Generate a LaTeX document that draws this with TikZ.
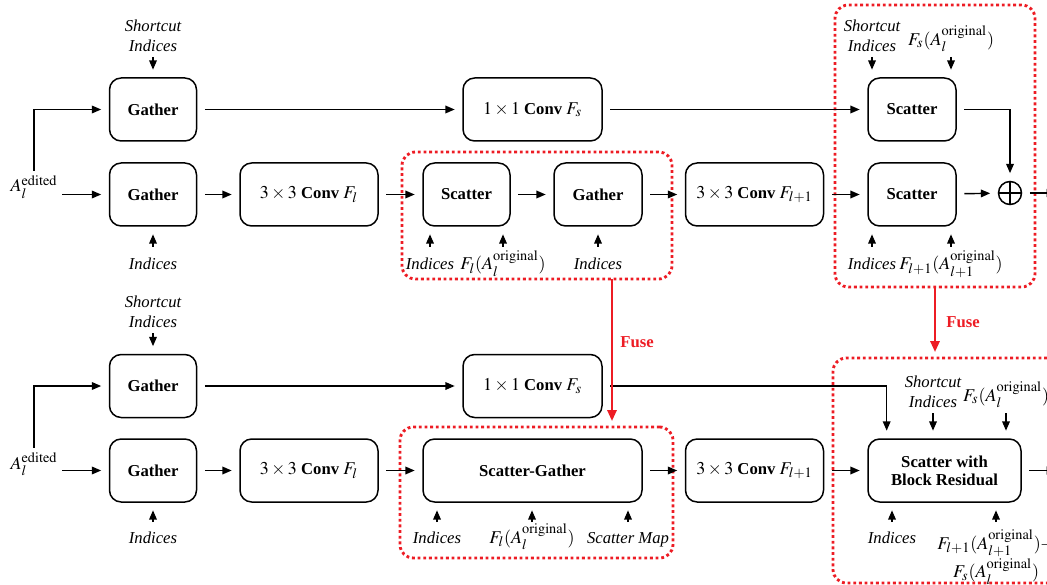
\documentclass[tikz,border=0pt]{standalone}
\usepackage{mathptmx}
\usepackage{fontspec}
\setmainfont{Liberation Serif}
\DeclareMathSizes{10}{10.8}{8.6}{7}
\usetikzlibrary{arrows.meta}
\definecolor{fusered}{RGB}{237,28,36}
\tikzset{
  blk/.style={draw, rounded corners=7pt, line width=0.9pt, minimum height=37.8pt,
    outer sep=5pt, font=\bfseries, align=center},
  arr/.style={-{Triangle[length=5.6pt,width=4.6pt]}, line width=0.85pt},
  lbl/.style={font=\itshape, inner sep=0.5pt, outer sep=2.5pt, align=center},
  fusebox/.style={draw=fusered, line width=1.7pt, dash pattern=on 1.7pt off 1.7pt,
    rounded corners=8pt, outer sep=0pt},
  fusearr/.style={draw=fusered, line width=1.3pt, shorten >=3.6pt,
    -{Triangle[length=6.5pt,width=5.5pt]}},
  fuselbl/.style={font=\bfseries, text=fusered}
}
\begin{document}
\begin{tikzpicture}[x=0.6pt,y=-0.6pt]
	\useasboundingbox (0,0) rectangle (1047,585);
	% fused regions
	\node[fusebox, minimum width=162pt, minimum height=76.2pt] (fb1) at (537,215.5) {};
	\node[fusebox, minimum width=120pt, minimum height=169.2pt] (fb2) at (935,146) {};
	\node[fusebox, minimum width=163.8pt, minimum height=78.6pt] (fb3) at (536.5,492.5) {};
	\node[fusebox, minimum width=160.2pt, minimum height=135pt] (fb4) at (966.5,470.5) {};
	% top: unfused block
	\node[blk, minimum width=52.2pt] (g1) at (153,109.5) {Gather};
	\node[blk, minimum width=83.4pt] (cs1) at (532.5,109.5) {$1\times 1$ Conv $F_s$};
	\node[blk, minimum width=52.8pt] (sc1) at (912,109.5) {Scatter};
	\node[lbl, anchor=base] (ae1) at (34,192) {$A_l^{\mathrm{edited}}$};
	\node[blk, minimum width=52.2pt] (g2) at (153,194.5) {Gather};
	\node[blk, minimum width=82.8pt] (cl1) at (309,194.5) {$3\times 3$ Conv $F_l$};
	\node[blk, minimum width=52.2pt] (s2) at (466.5,194.5) {Scatter};
	\node[blk, minimum width=52.8pt] (g3) at (598,194.5) {Gather};
	\node[blk, minimum width=82.8pt] (cn1) at (754.5,194.5) {$3\times 3$ Conv $F_{l+1}$};
	\node[blk, minimum width=52.8pt] (sc2) at (912,194.5) {Scatter};
	\node[draw, circle, line width=0.9pt, minimum size=13.8pt, outer sep=5pt,
	  path picture={\draw[line width=0.9pt] (path picture bounding box.north) -- (path picture bounding box.south)
	    (path picture bounding box.west) -- (path picture bounding box.east);}] (sum) at (1010,193) {};
	\coordinate (out1) at (1056,193);
	% top: side inputs
	\node[lbl, anchor=south] (si1) at (153,57) {Shortcut\\Indices};
	\node[lbl, anchor=south] (si2) at (872,57) {Shortcut\\Indices};
	\node[lbl, anchor=south] (fs1) at (951,57) {$F_s(A_l^{\mathrm{original}})$};
	\node[lbl, anchor=base] (i1) at (153,270) {Indices};
	\node[lbl, anchor=base] (i2) at (430,270) {Indices};
	\node[lbl, anchor=base] (fl1) at (503,270) {$F_l(A_l^{\mathrm{original}})$};
	\node[lbl, anchor=base] (i3) at (598,270) {Indices};
	\node[lbl, anchor=base] (i4) at (872,270) {Indices};
	\node[lbl, anchor=base] (fn1) at (951,270) {$F_{l+1}(A_{l+1}^{\mathrm{original}})$};
	% top: connectors
	\draw[arr] (ae1.north) |- (g1.west);
	\draw[arr] (ae1.east |- g2.west) -- (g2.west);
	\draw[arr] (g1) -- (cs1);
	\draw[arr] (cs1) -- (sc1);
	\draw[arr] (sc1.east) -| (sum.north);
	\draw[arr] (g2) -- (cl1);
	\draw[arr] (cl1) -- (s2);
	\draw[arr] (s2) -- (g3);
	\draw[arr] (g3) -- (cn1);
	\draw[arr] (cn1) -- (sc2);
	\draw[arr] (sc2) -- (sum);
	\draw[arr] (sum.east) -- (out1);
	\draw[arr] (si1.south) -- (si1.south |- g1.north);
	\draw[arr] (si2.south) -- (si2.south |- sc1.north);
	\draw[arr] (fs1.south) -- (fs1.south |- sc1.north);
	\foreach \lb/\bx in {i1/g2, i2/s2, fl1/s2, i3/g3, i4/sc2, fn1/sc2}
	  \draw[arr] ([yshift=13.8pt]\lb.base) -- (\lb.base |- \bx.south);
	% bottom: fused block
	\node[blk, minimum width=52.2pt] (g4) at (153,386) {Gather};
	\node[blk, minimum width=83.4pt] (cs2) at (532.5,386) {$1\times 1$ Conv $F_s$};
	\node[lbl, anchor=base] (ae2) at (34,469) {$A_l^{\mathrm{edited}}$};
	\node[blk, minimum width=52.2pt] (g5) at (153,470.5) {Gather};
	\node[blk, minimum width=82.8pt] (cl2) at (309,470.5) {$3\times 3$ Conv $F_l$};
	\node[blk, minimum width=131.4pt] (sg) at (532.5,470.5) {Scatter-Gather};
	\node[blk, minimum width=82.8pt] (cn2) at (754.5,470.5) {$3\times 3$ Conv $F_{l+1}$};
	\node[blk, minimum width=91.8pt] (sbr) at (944.5,470.5) {Scatter with\\[-1pt]Block Residual};
	\coordinate (out2) at (1056,470.5);
	\node[lbl, anchor=south] (si3) at (153,333) {Shortcut\\Indices};
	\node[lbl, anchor=south] (si4) at (933,413) {Shortcut\\Indices};
	\node[lbl, anchor=south] (fs2) at (1006,413) {$F_s(A_l^{\mathrm{original}})$};
	\node[lbl, anchor=base] (i5) at (153,543) {Indices};
	\node[lbl, anchor=base] (i6) at (437,543) {Indices};
	\node[lbl, anchor=base] (fl2) at (532,543) {$F_l(A_l^{\mathrm{original}})$};
	\node[lbl, anchor=base] (sm) at (628,543) {Scatter Map};
	\node[lbl, anchor=base] (i7) at (892,543) {Indices};
	\node[lbl, anchor=north] (fr) at (996,525) {$F_{l+1}(A_{l+1}^{\mathrm{original}})+$\\$F_s(A_l^{\mathrm{original}})$};
	% bottom: connectors
	\draw[arr] (ae2.north) |- (g4.west);
	\draw[arr] (ae2.east |- g5.west) -- (g5.west);
	\draw[arr] (g4) -- (cs2);
	\draw[arr] (cs2.east) -| ([xshift=16.2pt]sbr.north west);
	\draw[arr] (g5) -- (cl2);
	\draw[arr] (cl2) -- (sg);
	\draw[arr] (sg) -- (cn2);
	\draw[arr] (cn2) -- (sbr);
	\draw[arr] (sbr.east) -- (out2);
	\draw[arr] (si3.south) -- (si3.south |- g4.north);
	\draw[arr] (si4.south) -- (si4.south |- sbr.north);
	\draw[arr] (fs2.south) -- (fs2.south |- sbr.north);
	\foreach \lb/\bx in {i5/g5, i6/sg, fl2/sg, sm/sg, i7/sbr}
	  \draw[arr] ([yshift=12.6pt]\lb.base) -- (\lb.base |- \bx.south);
	\draw[arr] ([yshift=12.6pt]i7.base -| fr.north) -- (fr.north |- sbr.south);
	% fuse arrows
	\draw[fusearr] ([xshift=45pt]fb1.south) -- ([xshift=45pt]fb1.south |- fb3.north);
	\draw[fusearr] (fb2.south) -- (fb2.south |- fb4.north);
	\node[fuselbl] (fu1) at (637,342) {Fuse};
	\node[fuselbl] (fu2) at (963,322) {Fuse};
\end{tikzpicture}
\end{document}
